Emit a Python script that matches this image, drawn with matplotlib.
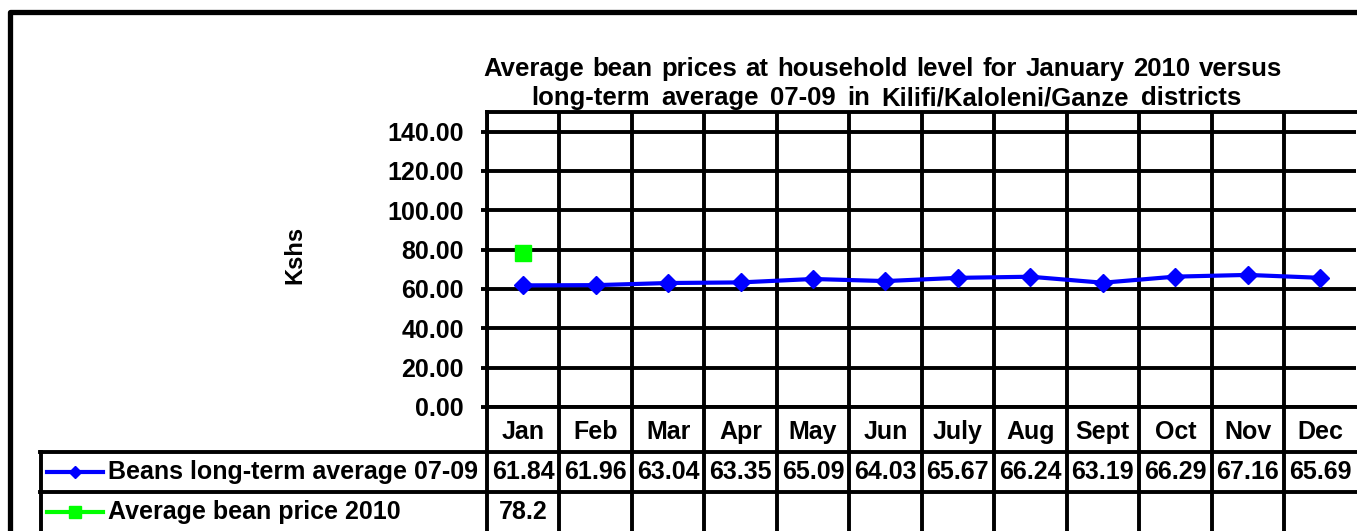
import numpy as np
import matplotlib.pyplot as plt
from matplotlib.lines import Line2D
from matplotlib.transforms import blended_transform_factory

# data
months = ['Jan', 'Feb', 'Mar', 'Apr', 'May', 'Jun', 'July', 'Aug', 'Sept', 'Oct', 'Nov', 'Dec']
long_term = [61.84, 61.96, 63.04, 63.35, 65.09, 64.03, 65.67, 66.24, 63.19, 66.29, 67.16, 65.69]
price_2010 = [78.2]
long_term_label = 'Beans long-term average 07-09'
price_2010_label = 'Average bean price 2010'
y_ticks = [0, 20, 40, 60, 80, 100, 120, 140]
title_lines = ['Average bean prices at household level for January 2010 versus',
               'long-term average 07-09 in Kilifi/Kaloleni/Ganze districts']

plt.rcParams['font.family'] = ['Liberation Sans', 'DejaVu Sans']
plt.rcParams['font.weight'] = 'bold'

W, H = 1357, 531
fig = plt.figure(figsize=(W / 100, H / 100), dpi=100)


def fx(p):
    return p / W


def fy(p):
    return 1 - p / H


LW = 2.8
blue = '#0000ff'
green = '#00ff00'

ax = fig.add_axes([fx(487), fy(407), fx(1356.4) - fx(487), fy(112) - fy(407)])
x = np.arange(len(months)) + 0.5
ax.plot(x, long_term, color=blue, lw=3, marker='D', ms=9, zorder=3)
ax.plot(x[:len(price_2010)], price_2010, color=green, lw=3, marker='s', ms=12, ls='none', zorder=3)

ax.set_xlim(0, 12)
ax.set_ylim(0, 150)
ax.set_yticks(y_ticks)
ax.set_yticklabels(['%.2f' % v for v in y_ticks], fontsize=18, fontweight='bold')
ax.set_xticks(np.arange(12))
ax.set_xticklabels([])
ax.tick_params(axis='x', length=0)
ax.tick_params(axis='y', length=4.5, width=LW, pad=12, direction='out')
ax.grid(True, color='black', lw=LW)
ax.set_axisbelow(True)
for s in ['left', 'top', 'bottom']:
    ax.spines[s].set_linewidth(LW)
ax.spines['right'].set_visible(False)

# y label
fig.text(fx(295), fy(255), 'Kshs', rotation=90, ha='center', va='center', fontsize=17, fontweight='bold')

# title, justified word by word like the original
renderer = fig.canvas.get_renderer()
for line, (x0, x1, yb) in zip(title_lines, [(483, 1282, 76), (531, 1241, 105)]):
    words = line.split(' ')
    texts = [fig.text(0, fy(yb), w, ha='left', va='baseline', fontsize=18.5, fontweight='bold') for w in words]
    widths = [t.get_window_extent(renderer).width for t in texts]
    gap = (x1 - x0 - sum(widths)) / (len(words) - 1)
    pos = x0
    for t, w in zip(texts, widths):
        t.set_x(fx(pos))
        pos += w + gap

# data table below the plot
tb = blended_transform_factory(ax.transData, fig.transFigure)
for k in range(12):
    fig.add_artist(Line2D([k, k], [fy(407), fy(540)], transform=tb, color='black', lw=LW))
for yy in [452, 492]:
    fig.add_artist(Line2D([fx(40), fx(1360)], [fy(yy), fy(yy)], color='black', lw=LW))
fig.add_artist(Line2D([fx(41), fx(41)], [fy(452), fy(540)], color='black', lw=LW))

for i, m in enumerate(months):
    fig.text(i + 0.5, fy(432), m, transform=tb, ha='center', va='center', fontsize=18, fontweight='bold')
    fig.text(i + 0.5, fy(472), '%.2f' % long_term[i], transform=tb, ha='center', va='center',
             fontsize=18, fontweight='bold')
for i, v in enumerate(price_2010):
    fig.text(i + 0.5, fy(512), '%g' % v, transform=tb, ha='center', va='center', fontsize=18, fontweight='bold')

# legend keys in the table
fig.add_artist(Line2D([fx(47), fx(103)], [fy(472), fy(472)], color=blue, lw=3))
fig.add_artist(Line2D([fx(75)], [fy(472)], color=blue, marker='D', ms=6, ls='none'))
fig.add_artist(Line2D([fx(47), fx(103)], [fy(512), fy(512)], color=green, lw=3))
fig.add_artist(Line2D([fx(75)], [fy(512)], color=green, marker='s', ms=8, ls='none'))
fig.text(fx(108), fy(472), long_term_label, ha='left', va='center', fontsize=18, fontweight='bold')
fig.text(fx(108), fy(512), price_2010_label, ha='left', va='center', fontsize=18, fontweight='bold')

# outer frame
fig.add_artist(Line2D([fx(10), fx(10), fx(1370)], [fy(540), fy(12), fy(12)], color='black', lw=3.8))

fig.savefig('out.png', dpi=100)
